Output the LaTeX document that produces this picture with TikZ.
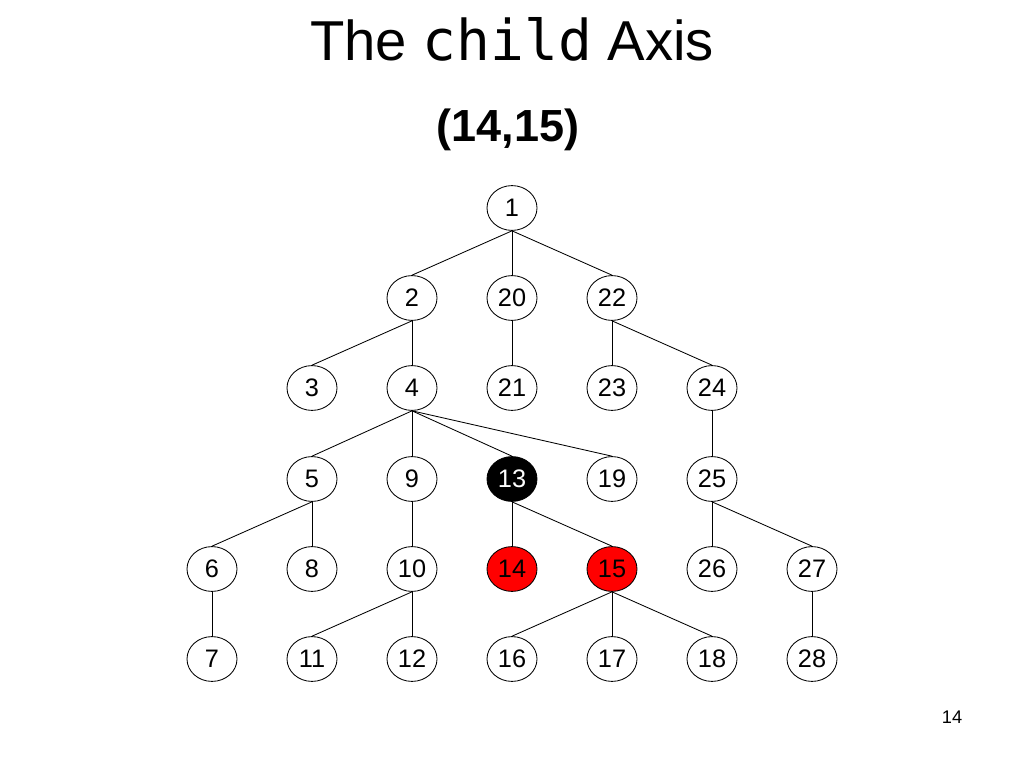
\documentclass[tikz,border=0pt]{standalone}
\usepackage{fontspec}
\setmainfont{Liberation Sans}
\newfontfamily\monofont{DejaVu Sans Mono}
\usetikzlibrary{shapes.geometric}

\begin{document}
\begin{tikzpicture}[
x=0.025cm, y=-0.025cm,
vertex/.style = {ellipse, draw=black, fill=white, line width=0.6pt, inner sep=0pt, minimum width=1.25cm, minimum height=1.12cm, font=\fontsize{18}{18}\selectfont},
context/.style = {vertex, fill=black, text=white},
result/.style = {vertex, fill=red},
edge/.style = {line width=0.6pt}
                        ]
%page size
\useasboundingbox (0,0) rectangle (1024,768);
%

% title
\node[anchor=base, font=\fontsize{40}{40}\selectfont] (title) at (512,61) {The {\monofont child} Axis};
\node[anchor=base, font=\fontsize{32}{32}\selectfont\bfseries] (pair) at (508,142) {(14,15)};

% first row
\node[vertex] (n1) at (512,208) {1};

% second row
\foreach \n/\x in {2/412, 20/512, 22/612}
{
    \node[vertex] (n\n) at (\x,298) {\n};
}

% third row
\foreach \n/\x in {3/312, 4/412, 21/512, 23/612, 24/712}
{
    \node[vertex] (n\n) at (\x,388) {\n};
}

% fourth row
\foreach \n/\x in {5/312, 9/412, 19/612, 25/712}
{
    \node[vertex] (n\n) at (\x,479) {\n};
}
\node[context] (n13) at (512,479) {13};

% fifth row
\foreach \n/\x in {6/212, 8/312, 10/412, 26/712, 27/812}
{
    \node[vertex] (n\n) at (\x,569) {\n};
}
\node[result] (n14) at (512,569) {14};
\node[result] (n15) at (612,569) {15};

% sixth row
\foreach \n/\x in {7/212, 11/312, 12/412, 16/512, 17/612, 18/712, 28/812}
{
    \node[vertex] (n\n) at (\x,659) {\n};
}

% edges
\foreach \a/\b in {1/2, 1/20, 1/22, 2/3, 2/4, 20/21, 22/23, 22/24,
                   4/5, 4/9, 4/13, 4/19, 24/25, 5/6, 5/8, 9/10, 13/14, 13/15,
                   25/26, 25/27, 6/7, 10/11, 10/12, 15/16, 15/17, 15/18, 27/28}
{
    \draw[edge] (n\a.south) -- (n\b.north);
}

% page number
\node[anchor=base, font=\fontsize{13}{13}\selectfont] (page) at (952,723) {14};

\end{tikzpicture}
\end{document}
